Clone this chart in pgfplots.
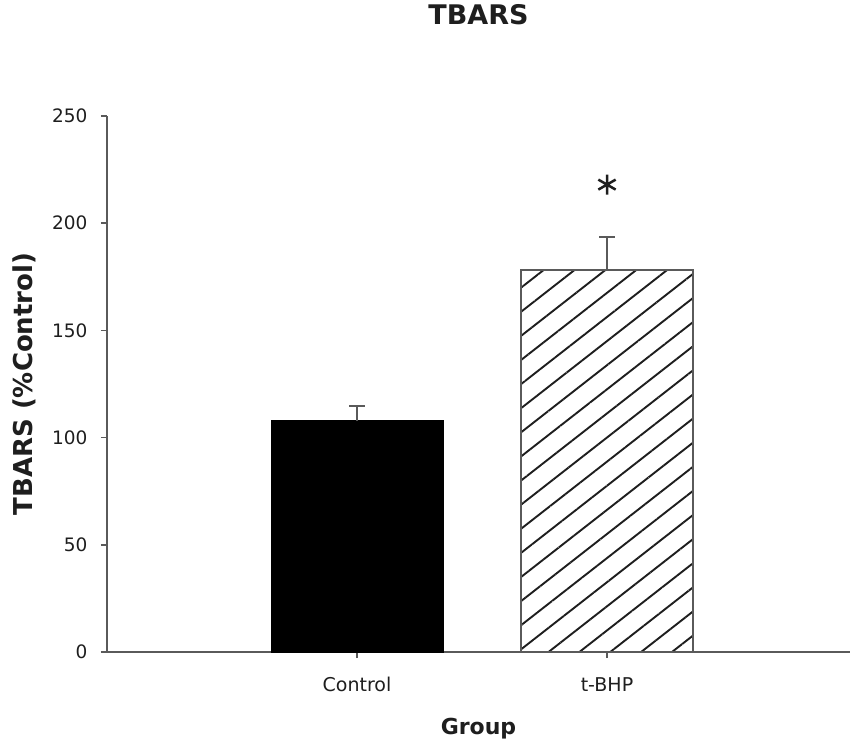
\documentclass[border=0pt]{standalone}
\usepackage{fontspec}
\setmainfont{DejaVu Sans}
\usepackage{pgfplots}
\pgfplotsset{compat=1.18}
\usetikzlibrary{patterns.meta}
\definecolor{axgray}{HTML}{5A5A5A}
\definecolor{txt}{HTML}{1E1E1E}
\begin{document}
\begin{tikzpicture}
\useasboundingbox (0,0) rectangle (852pt,-743pt);
\begin{axis}[
  at={(107pt,-652pt)}, anchor=south west,
  scale only axis, width=743pt, height=536pt,
  xmin=-1, xmax=1.972, ymin=0, ymax=250,
  axis lines=left,
  axis line style={-, line width=2pt, color=axgray},
  xtick={0,1}, xticklabels={Control,t-BHP},
  ytick={0,50,100,150,200,250},
  tick align=outside, major tick length=6pt,
  tick style={line width=1.5pt, color=axgray},
  /pgf/number format/assume math mode=true,
  yticklabel style={font=\fontsize{18.5}{18.5}\selectfont, color=txt, xshift=-10pt},
  xticklabel style={font=\fontsize{19}{19}\selectfont, color=txt, yshift=-16pt},
  title={TBARS},
  title style={font=\bfseries\fontsize{27}{27}\selectfont, color=txt, at={(axis description cs:0.5,1)}, anchor=center, yshift=95pt},
  xlabel={Group},
  xlabel style={font=\bfseries\fontsize{22}{22}\selectfont, color=txt, at={(axis description cs:0.5,0)}, anchor=center, yshift=-77pt},
  ylabel={TBARS (\%Control)},
  ylabel style={font=\bfseries\fontsize{26}{26}\selectfont, color=txt, at={(axis description cs:-0.1110,0.5)}, anchor=center},
  clip=false,
]
\addplot[ybar, bar width=172pt, bar shift=0pt, fill=black, draw=black,
  error bars/.cd, y dir=plus, y explicit,
  error bar style={line width=2pt, color=axgray},
  error mark options={rotate=90, mark size=8pt, line width=2pt, color=axgray}]
  coordinates {(0,107.9) +- (0,7.0)};
\addplot[ybar, bar width=172pt, bar shift=0pt, draw=axgray, line width=1.5pt,
  pattern={Lines[angle=38,distance=19pt,line width=1.9pt]}, pattern color=txt,
  error bars/.cd, y dir=plus, y explicit,
  error bar style={line width=2pt, color=axgray},
  error mark options={rotate=90, mark size=8pt, line width=2pt, color=axgray}]
  coordinates {(1,178.2) +- (0,15.2)};
\addplot[only marks, mark=asterisk, mark size=10pt, mark options={line width=2.5pt, color=txt}]
  coordinates {(1,218)};
\end{axis}
\end{tikzpicture}
\end{document}
